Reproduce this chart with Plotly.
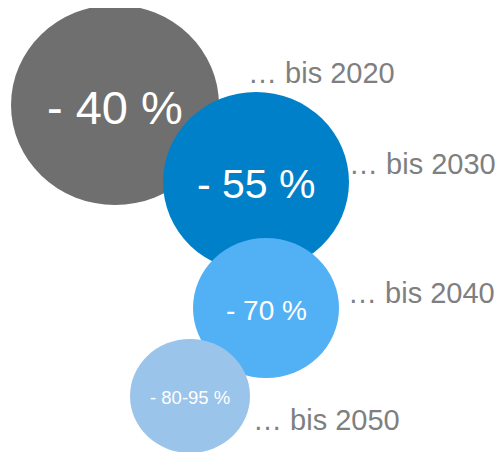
import plotly.graph_objects as go

# Data
values = ["- 40 %", "- 55 %", "- 70 %", "- 80-95 %"]
periods = ["… bis 2020", "… bis 2030", "… bis 2040", "… bis 2050"]

# Layout geometry (pixels in the 504x452 window)
cx = [115, 256, 266, 190]
cy = [105, 182, 308, 396]
rx = [104, 93, 73, 60]
ry = [100, 90, 70, 57]
value_font = [47, 41, 28, 18.5]
value_y = [107, 184, 310, 397]
label_x = [246, 347, 346, 251]
label_y = [73, 164, 293, 420]
colors = ["#6f6f6f", "#0080c9", "#52b0f5", "#9bc4ea"]

fig = go.Figure()
fig.add_trace(go.Scatter(x=[8, 504], y=[8, 452], mode="markers",
                         marker=dict(opacity=0), hoverinfo="skip", showlegend=False))

for i in range(len(values)):
    fig.add_shape(type="circle", xref="x", yref="y",
                  x0=cx[i] - rx[i], x1=cx[i] + rx[i],
                  y0=cy[i] - ry[i], y1=cy[i] + ry[i],
                  fillcolor=colors[i], line=dict(width=0), layer="above")
    fig.add_annotation(x=cx[i], y=value_y[i], text=values[i], showarrow=False,
                       xanchor="center", yanchor="middle",
                       font=dict(family="Liberation Sans, Arial", size=value_font[i], color="white"))
    fig.add_annotation(x=label_x[i], y=label_y[i], text=periods[i], showarrow=False,
                       xanchor="left", yanchor="middle",
                       font=dict(family="Liberation Sans, Arial", size=29, color="#7f7f7f"))

fig.update_layout(width=496, height=444, margin=dict(l=0, r=0, t=0, b=0),
                  paper_bgcolor="white", plot_bgcolor="white", showlegend=False)
fig.update_xaxes(range=[8, 504], visible=False, fixedrange=True)
fig.update_yaxes(range=[452, 8], visible=False, fixedrange=True)
fig.write_html("out.html")
